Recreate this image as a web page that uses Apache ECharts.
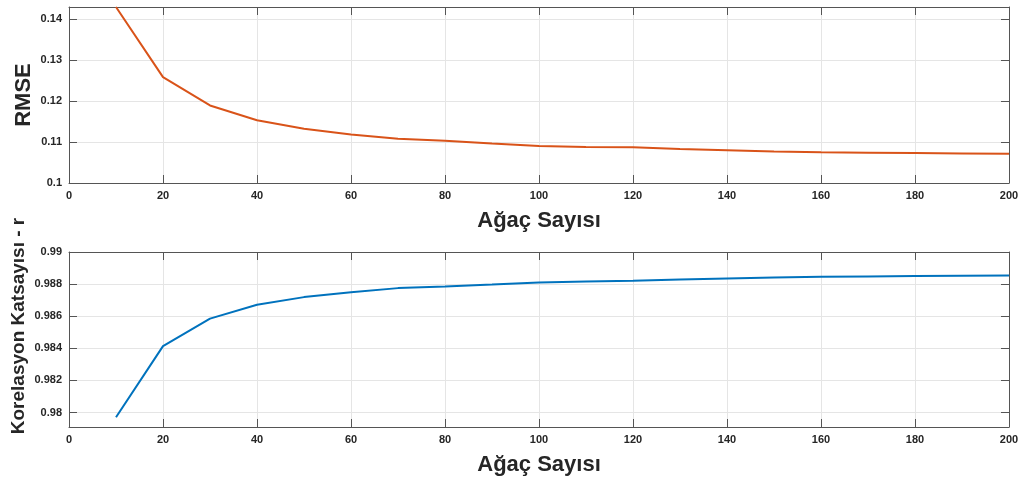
<!DOCTYPE html>
<html>
<head>
<meta charset="utf-8">
<script src="https://cdn.jsdelivr.net/npm/echarts@6/dist/echarts.min.js"></script>
<style>
  html, body { margin: 0; padding: 0; background: #fff; }
  #main { width: 1021px; height: 479px; }
</style>
</head>
<body>
<div id="main"></div>
<script>
// ağaç sayısı (x)
var trees = [10, 20, 30, 40, 50, 60, 70, 80, 90, 100, 110, 120, 130, 140, 150, 160, 170, 180, 190, 200];
// RMSE
var rmse = [0.1429, 0.1258, 0.1189, 0.1153, 0.1132, 0.1118, 0.1108, 0.1103, 0.1096, 0.1090, 0.1088, 0.1087, 0.1083, 0.1080, 0.1077, 0.1075, 0.1074, 0.1073, 0.1072, 0.1071];
// korelasyon katsayısı r
var corr = [0.97971, 0.98414, 0.98585, 0.98671, 0.98719, 0.98750, 0.98775, 0.98785, 0.98797, 0.98810, 0.98816, 0.98821, 0.98829, 0.98835, 0.98841, 0.98846, 0.98848, 0.98850, 0.98852, 0.98854];

var xTicks = [0, 20, 40, 60, 80, 100, 120, 140, 160, 180, 200];
var rmseTicks = [0.1, 0.11, 0.12, 0.13, 0.14];
var corrTicks = [0.98, 0.982, 0.984, 0.986, 0.988, 0.99];

var axisCol = '#555555';
var textCol = '#262626';
var gridCol = '#e5e5e5';

function pairs(xs, ys) {
  var out = [];
  for (var i = 0; i < xs.length; i++) {
    out.push([xs[i], ys[i]]);
  }
  return out;
}

function xAxisMain(gridIndex) {
  return {
    type: 'value', gridIndex: gridIndex, position: 'bottom',
    min: 0, max: 200, interval: 20,
    name: 'Ağaç Sayısı', nameLocation: 'middle', nameGap: 27,
    nameTextStyle: { fontFamily: 'Liberation Sans', fontWeight: 'bold', fontSize: 22, color: textCol },
    axisLine: { show: true, onZero: false, lineStyle: { color: axisCol, width: 1 } },
    axisTick: { show: true, inside: true, length: 8, customValues: xTicks, lineStyle: { color: axisCol } },
    axisLabel: { show: true, margin: 7, customValues: xTicks, fontFamily: 'Liberation Sans', fontWeight: 'bold', fontSize: 11, color: textCol },
    splitLine: { show: true, lineStyle: { color: gridCol, width: 1 } }
  };
}

function xAxisTop(gridIndex) {
  return {
    type: 'value', gridIndex: gridIndex, position: 'top',
    min: 0, max: 200, interval: 20,
    axisLine: { show: true, onZero: false, lineStyle: { color: axisCol, width: 1 } },
    axisTick: { show: true, inside: true, length: 8, customValues: xTicks, lineStyle: { color: axisCol } },
    axisLabel: { show: false },
    splitLine: { show: false }
  };
}

function yAxisMain(gridIndex, min, max, ticks, name, gap, pad, size) {
  return {
    type: 'value', gridIndex: gridIndex, position: 'left',
    min: min, max: max,
    name: name, nameLocation: 'middle', nameGap: gap, nameMoveOverlap: false,
    nameTextStyle: { fontFamily: 'Liberation Sans', fontWeight: 'bold', fontSize: size, color: textCol, padding: pad },
    axisLine: { show: true, onZero: false, lineStyle: { color: axisCol, width: 1 } },
    axisTick: { show: true, inside: true, length: 8, customValues: ticks, lineStyle: { color: axisCol } },
    axisLabel: { show: true, margin: 7, customValues: ticks, fontFamily: 'Liberation Sans', fontWeight: 'bold', fontSize: 11, color: textCol },
    splitLine: { show: true, lineStyle: { color: gridCol, width: 1 } }
  };
}

function yAxisRight(gridIndex, min, max, ticks) {
  return {
    type: 'value', gridIndex: gridIndex, position: 'right',
    min: min, max: max,
    axisLine: { show: true, onZero: false, lineStyle: { color: axisCol, width: 1 } },
    axisTick: { show: true, inside: true, length: 8, customValues: ticks, lineStyle: { color: axisCol } },
    axisLabel: { show: false },
    splitLine: { show: false }
  };
}

var myChart = echarts.init(document.getElementById('main'));
myChart.setOption({
  backgroundColor: '#ffffff',
  animation: false,
  grid: [
    { left: 69, right: 12, top: 7, height: 176, outerBoundsMode: 'none' },
    { left: 69, right: 12, top: 252, height: 175, outerBoundsMode: 'none' }
  ],
  xAxis: [xAxisMain(0), xAxisTop(0), xAxisMain(1), xAxisTop(1)],
  yAxis: [
    yAxisMain(0, 0.1, 0.1429, rmseTicks, 'RMSE', 34, [0, 0, 0, 0], 22),
    yAxisRight(0, 0.1, 0.1429, rmseTicks),
    yAxisMain(1, 0.9791, 0.99, corrTicks, 'Korelasyon Katsayısı - r', 41, [0, 0, 0, 27], 19),
    yAxisRight(1, 0.9791, 0.99, corrTicks)
  ],
  series: [
    {
      name: 'RMSE', type: 'line', xAxisIndex: 0, yAxisIndex: 0,
      data: pairs(trees, rmse), symbol: 'none',
      lineStyle: { color: '#D95319', width: 2 }
    },
    {
      name: 'r', type: 'line', xAxisIndex: 2, yAxisIndex: 2,
      data: pairs(trees, corr), symbol: 'none',
      lineStyle: { color: '#0072BD', width: 2 }
    }
  ]
});
</script>
</body>
</html>
